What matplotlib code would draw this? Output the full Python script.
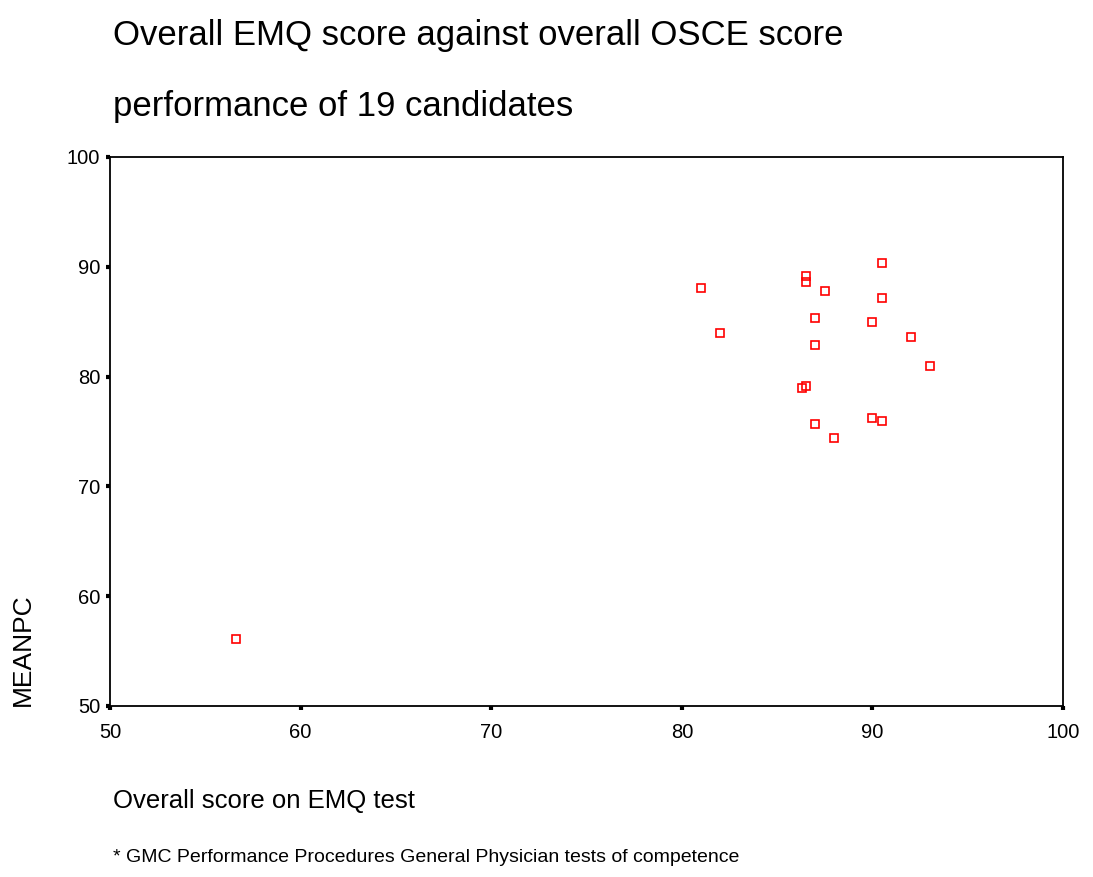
import matplotlib
matplotlib.use('Agg')
import matplotlib.pyplot as plt

plt.rcParams['font.family'] = ['Liberation Sans', 'DejaVu Sans']

# overall EMQ score (x) and MEANPC (y) for 19 candidates
emq = [56.6, 81.0, 82.0, 86.5, 86.5, 87.5, 87.0, 87.0, 86.3, 86.5,
       87.0, 88.0, 90.5, 90.5, 90.0, 92.0, 93.0, 90.0, 90.5]
meanpc = [56.1, 88.1, 84.0, 89.2, 88.6, 87.8, 85.3, 82.9, 79.0, 79.1,
          75.7, 74.4, 90.3, 87.2, 85.0, 83.6, 81.0, 76.2, 76.0]

xticks = [50, 60, 70, 80, 90, 100]
yticks = [50, 60, 70, 80, 90, 100]

fig = plt.figure(figsize=(10.93, 8.77), dpi=100)
ax = fig.add_axes([0.1006, 0.195, 0.8720, 0.626])

ax.plot(emq, meanpc, linestyle='none', marker='s', ms=6.3,
        mfc='none', mec='red', mew=1.2)

ax.set_xlim(50, 100)
ax.set_ylim(50, 100)
ax.set_xticks(xticks)
ax.set_yticks(yticks)
ax.tick_params(direction='out', length=3, width=3, labelsize=14.5)
ax.tick_params(axis='x', pad=9)
ax.tick_params(axis='y', pad=4)
for s in ax.spines.values():
    s.set_linewidth(1.3)

fig.text(0.103, 0.959, 'Overall EMQ score against overall OSCE score',
         fontsize=25, va='center', ha='left')
fig.text(0.103, 0.879, 'performance of 19 candidates',
         fontsize=25, va='center', ha='left')
fig.text(0.021, 0.195, 'MEANPC', rotation=90, fontsize=19,
         va='bottom', ha='center')
fig.text(0.103, 0.087, 'Overall score on EMQ test', fontsize=18.5,
         va='center', ha='left')
fig.text(0.103, 0.022,
         '* GMC Performance Procedures General Physician tests of competence',
         fontsize=14, va='center', ha='left')

fig.savefig('out.png', dpi=100)
